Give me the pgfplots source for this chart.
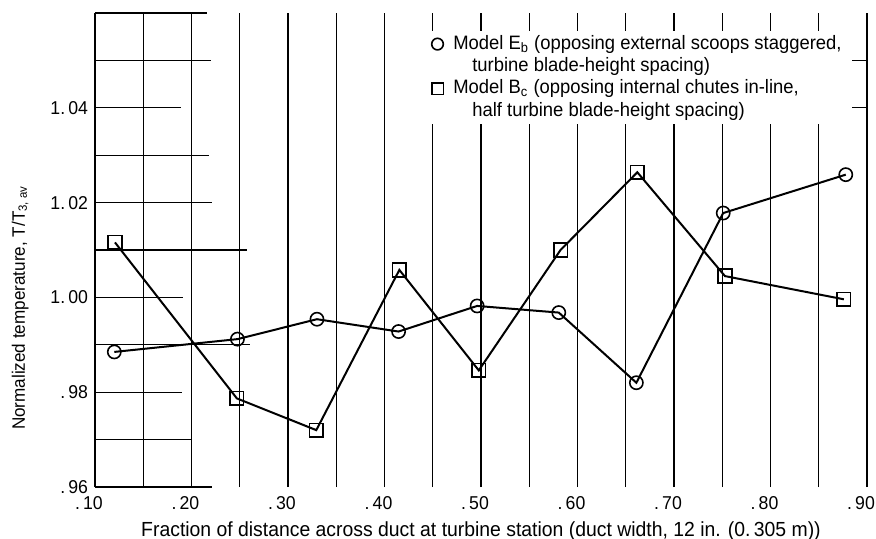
\documentclass[border=0pt]{standalone}
\usepackage{fontspec}
\setmainfont[FakeStretch=0.95]{Liberation Sans}
\usepackage{pgfplots}
\pgfplotsset{compat=1.18}
\begin{document}
\begin{tikzpicture}
\path[use as bounding box] (-47.5pt,-25.5pt) rectangle (390.5pt,243.5pt);
\begin{axis}[
  scale only axis, width=386pt, height=237pt,
  xmin=0.10, xmax=0.90, ymin=0.96, ymax=1.06,
  clip=false,
  axis line style={draw=none},
  xtick={0.1,0.2,0.3,0.4,0.5,0.6,0.7,0.8,0.9},
  xticklabels={.\,10,.\,20,.\,30,.\,40,.\,50,.\,60,.\,70,.\,80,.\,90},
  minor xtick={0.15,0.25,0.35,0.45,0.55,0.65,0.75,0.85},
  xmajorgrids, xminorgrids,
  major grid style={black, line width=0.55pt},
  minor grid style={black, line width=0.55pt},
  ytick={0.96,0.98,1.00,1.02,1.04},
  yticklabels={.\,96,.\,98,1.\,00,1.\,02,1.\,04},
  major tick length=0pt, minor tick length=0pt,
  tick style={draw=none},
  /pgf/number format/assume math mode=true,
  tick label style={font=\fontsize{9.3}{11}\selectfont},
  xticklabel style={yshift=-1pt, xshift=-3pt},
  xlabel={Fraction of distance across duct at turbine station (duct width, 12 in. (0.\,305 m))},
  xlabel style={at={(axis description cs:0.5,-0.0935)}, anchor=center, font=\fontsize{10.2}{12}\selectfont},
  ylabel={Normalized temperature, T/T\textsubscript{3, av}},
  ylabel style={at={(axis description cs:-0.097,0.378)}, anchor=center, font=\fontsize{9}{11}\selectfont},
  legend style={at={(axis cs:0.4423,1.0563)}, anchor=north west, draw=none, fill=white,
    font=\fontsize{9.7}{11}\selectfont, inner xsep=3pt, inner ysep=1pt, row sep=0pt, column sep=3pt,
    nodes={text height=7.6pt, text depth=2.55pt, inner ysep=0.5pt}},
  legend cell align=left,
  legend image code/.code={\draw[#1, only marks, mark size=2.9pt] plot coordinates {(0cm,0cm)};},
]
% partial horizontal grid lines (as on the original graph paper)
\draw[line width=0.55pt] (axis cs:0.10,1.06) -- (axis cs:0.216,1.06);
\draw[line width=0.55pt] (axis cs:0.10,1.05) -- (axis cs:0.220,1.05);
\draw[line width=0.55pt] (axis cs:0.10,1.04) -- (axis cs:0.189,1.04);
\draw[line width=0.55pt] (axis cs:0.10,1.03) -- (axis cs:0.218,1.03);
\draw[line width=0.55pt] (axis cs:0.10,1.02) -- (axis cs:0.221,1.02);
\draw[line width=0.55pt] (axis cs:0.10,1.01) -- (axis cs:0.258,1.01);
\draw[line width=0.55pt] (axis cs:0.10,1.00) -- (axis cs:0.191,1.00);
\draw[line width=0.55pt] (axis cs:0.10,0.99) -- (axis cs:0.261,0.99);
\draw[line width=0.55pt] (axis cs:0.10,0.98) -- (axis cs:0.190,0.98);
\draw[line width=0.55pt] (axis cs:0.10,0.97) -- (axis cs:0.199,0.97);
\draw[line width=0.55pt] (axis cs:0.10,0.96) -- (axis cs:0.221,0.96);
\draw[line width=0.55pt] (axis cs:0.878,1.05) -- (axis cs:0.90,1.05);
\draw[line width=0.55pt] (axis cs:0.878,1.04) -- (axis cs:0.90,1.04);

\addplot[black, line width=1pt, mark=o, mark size=3.3pt, mark options={fill=white, line width=0.8pt}]
  coordinates {(0.120,0.9885) (0.2476,0.9912) (0.330,0.9954) (0.4146,0.9928) (0.496,0.9982)
               (0.5806,0.9968) (0.661,0.9820) (0.751,1.0178) (0.878,1.0259)};
\addlegendentry{Model E\textsubscript{b} (opposing external scoops staggered,}
\addlegendimage{empty legend}
\addlegendentry{\hspace{9.5pt}turbine blade-height spacing)}
\addplot[black, line width=1pt, mark=square, mark size=3.4pt, mark options={fill=white, line width=0.8pt}]
  coordinates {(0.1207,1.0116) (0.247,0.9787) (0.3293,0.9720) (0.4154,1.0058) (0.4977,0.9846)
               (0.5824,1.0100) (0.662,1.0264) (0.7528,1.0045) (0.876,0.9996)};
\addlegendentry{Model B\textsubscript{c} (opposing internal chutes in-line,}
\addlegendimage{empty legend}
\addlegendentry{\hspace{9.5pt}half turbine blade-height spacing)}
\end{axis}
\end{tikzpicture}
\end{document}
